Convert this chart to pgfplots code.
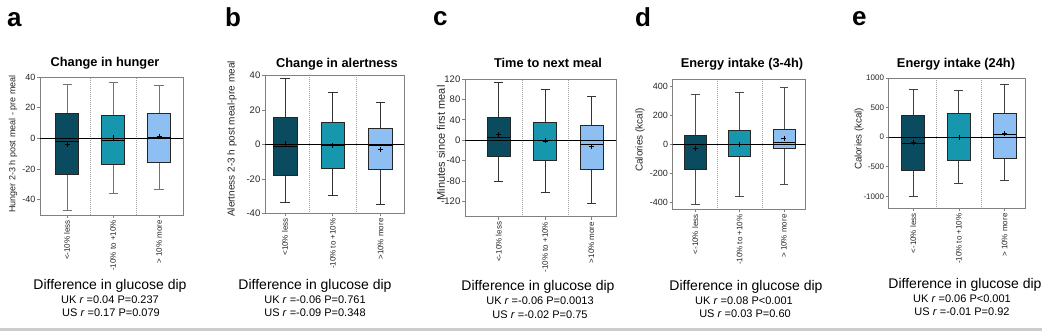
\documentclass[border=0pt]{standalone}
\usepackage{fontspec}
\setmainfont{Liberation Sans}
\usepackage{pgfplots}
\pgfplotsset{compat=1.18}
\definecolor{cA}{HTML}{0B4B5F}
\definecolor{cB}{HTML}{1697AD}
\definecolor{cC}{HTML}{8EBFF2}
\definecolor{axgray}{HTML}{808080}
\tikzset{wsk/.style={draw=black!80, line width=0.8pt}}
\pgfplotsset{
 panel/.style={
  scale only axis, anchor=south west,
  xtick={1,2,3},
  tick pos=left, tick align=outside, major tick length=3pt,
  axis line style={draw=axgray, line width=0.9pt},
  every tick/.style={draw=axgray, line width=0.7pt},
  minor xtick={1.5,2.5}, xminorgrids=true,
  minor grid style={dash pattern=on 0.6pt off 1.4pt, gray!75, line width=0.6pt}, minor tick length=0pt,
  yticklabel style={font=\fontsize{9}{10}\selectfont, text=black!85, inner sep=1.5pt},
  xticklabel style={rotate=90, anchor=east, font=\fontsize{8}{9}\selectfont, text=black!85, inner sep=2pt},
  /pgf/number format/assume math mode=true,
  /pgf/number format/1000 sep={},
 },
}
% \bx{position}{lower whisker}{lower quartile}{median}{upper quartile}{upper whisker}{colour}
\newcommand{\bx}[7]{%
 \pgfmathsetmacro\xl{#1-0.25}\pgfmathsetmacro\xr{#1+0.25}%
 \pgfmathsetmacro\cl{#1-0.1}\pgfmathsetmacro\cr{#1+0.1}%
 \addplot[wsk] coordinates {(#1,#2) (#1,#3)};
 \addplot[wsk] coordinates {(#1,#5) (#1,#6)};
 \addplot[wsk] coordinates {(\cl,#2) (\cr,#2)};
 \addplot[wsk] coordinates {(\cl,#6) (\cr,#6)};
 \addplot[fill=#7, draw=black!85, line width=0.7pt] coordinates {(\xl,#3) (\xr,#3) (\xr,#5) (\xl,#5)} --cycle;
 \addplot[black, line width=0.8pt] coordinates {(\xl,#4) (\xr,#4)};
}
\newcommand{\zeroline}{\addplot[black, line width=0.8pt] coordinates {(-1,0) (5,0)};}
\begin{document}
\begin{tikzpicture}
\useasboundingbox (0,0) rectangle (1042pt,331pt);
\fill[white] (0,0) rectangle (1042pt,331pt);
\fill[black!20] (0,0) rectangle (1042pt,2.6pt);

% ---------- a ----------
\begin{axis}[panel, at={(40pt,116pt)}, width=143pt, height=138pt,
  xmin=0.41, xmax=3.52, ymin=-50, ymax=40, ytick={-40,-20,0,20,40},
  xticklabels={{<-10\% less},{-10\% to +10\%},{> 10\% more}},
  /tikz/wsk/.style={draw=black!55, line width=0.8pt}]
\bx{1}{-46.8}{-23.7}{-1.9}{16.5}{35.4}{cA}
\bx{2}{-35.9}{-17}{-1.2}{15}{36.3}{cB}
\bx{3}{-33.5}{-15.8}{0.4}{16}{34.3}{cC}
\zeroline
\addplot[only marks, mark=+, mark size=2.5pt, black, line width=0.7pt] coordinates {(1,-3.8) (2,0.3) (3,1.2)};
\end{axis}

% ---------- b ----------
\begin{axis}[panel, at={(265pt,117.7pt)}, width=139pt, height=137.6pt,
  xmin=0.58, xmax=3.49, ymin=-40, ymax=40, ytick={-40,-20,0,20,40},
  yticklabel style={font=\fontsize{9.5}{10}\selectfont},
  xticklabels={{<10\% less},{-10\% to +10\%},{>10\% more}}]
\bx{1}{-33.4}{-18.1}{-1.3}{16}{38.4}{cA}
\bx{2}{-29.7}{-13.8}{-0.3}{12.9}{30.3}{cB}
\bx{3}{-34.9}{-14.6}{-0.7}{9.4}{24.2}{cC}
\zeroline
\addplot[only marks, mark=+, mark size=2.5pt, black, line width=0.7pt] coordinates {(1,0.3) (2,-0.5) (3,-2.7)};
\end{axis}

% ---------- c ----------
\begin{axis}[panel, at={(465pt,114.3pt)}, width=151pt, height=137.7pt,
  xmin=0.27, xmax=3.53, ymin=-150, ymax=120, ytick={-120,-80,-40,0,40,80,120},
  yticklabel style={font=\fontsize{9.5}{10}\selectfont},
  xticklabels={{<-10\% less},{-10\% to +10\%},{>10\% more}}]
\bx{1}{-80}{-32}{5.2}{44}{114}{cA}
\bx{2}{-102.3}{-40}{-1.3}{34.8}{99.7}{cB}
\bx{3}{-123.3}{-57.7}{-7.9}{29.5}{86}{cC}
\zeroline
\addplot[only marks, mark=+, mark size=2.5pt, black, line width=0.7pt] coordinates {(1,10.5) (2,-1.3) (3,-13)};
\end{axis}

% ---------- d ----------
\begin{axis}[panel, at={(672.7pt,121.7pt)}, width=133pt, height=130.3pt,
  xmin=0.49, xmax=3.49, ymin=-450, ymax=450, ytick={-400,-200,0,200,400},
  xticklabels={{<-10\% less},{-10\% to +10\%},{> 10\% more}},
  /tikz/wsk/.style={draw=black!70, line width=0.8pt}]
\bx{1}{-416}{-175}{-5}{60}{342}{cA}
\bx{2}{-363}{-85}{0}{96}{356}{cB}
\bx{3}{-278}{-28}{9}{101}{393}{cC}
\zeroline
\addplot[only marks, mark=+, mark size=2.5pt, black, line width=0.7pt] coordinates {(1,-28) (2,0) (3,41)};
\end{axis}

% ---------- e ----------
\begin{axis}[panel, at={(888.7pt,122.7pt)}, width=136.6pt, height=130.3pt,
  xmin=0.465, xmax=3.454, ymin=-1200, ymax=1000, ytick={-1000,-500,0,500,1000},
  yticklabel style={font=\fontsize{8}{9}\selectfont},
  xticklabels={{<-10\% less},{-10\% to +10\%},{> 10\% more}},
  /tikz/wsk/.style={draw=black!75, line width=0.8pt}]
\bx{1}{-1005}{-552}{-98}{367}{810}{cA}
\bx{2}{-787}{-384}{3}{406}{787}{cB}
\bx{3}{-731}{-350}{53}{400}{888}{cC}
\zeroline
\addplot[only marks, mark=+, mark size=2.5pt, black, line width=0.7pt] coordinates {(1,-88) (2,3) (3,59)};
\end{axis}

% panel letters
\begin{scope}[every node/.style={font=\bfseries\fontsize{26}{28}\selectfont, anchor=base west, inner sep=0pt}]
\node at (7pt,304.3pt) {a};
\node at (225pt,304.3pt) {b};
\node at (433pt,305pt) {c};
\node at (635pt,304pt) {d};
\node at (852pt,305pt) {e};
\end{scope}
% titles
\begin{scope}[every node/.style={font=\bfseries\fontsize{12.8}{14}\selectfont, anchor=base, inner sep=0pt}]
\node at (105pt,264.5pt) {Change in hunger};
\node at (337pt,263.5pt) {Change in alertness};
\node at (548pt,263.5pt) {Time to next meal};
\node at (742pt,263.5pt) {Energy intake (3-4h)};
\node at (956pt,263.5pt) {Energy intake (24h)};
\end{scope}
% y labels
\node[rotate=90, font=\fontsize{9}{10}\selectfont, text=black!85] at (13pt,187pt) {Hunger 2-3 h post meal - pre meal};
\node[rotate=90, font=\fontsize{10}{11}\selectfont, text=black!85] at (232pt,192pt) {Alertness 2-3 h post meal-pre meal};
\node[rotate=90, font=\fontsize{11}{12}\selectfont, text=black!85] at (441pt,188pt) {Minutes since first meal};
\node[rotate=90, font=\fontsize{10}{11}\selectfont, text=black!85] at (640pt,191pt) {Calories (kcal)};
\node[rotate=90, font=\fontsize{9.7}{11}\selectfont, text=black!85] at (859pt,192pt) {Calories (kcal)};
% bottom texts
\begin{scope}[every node/.style={anchor=base, inner sep=0pt}]
\node[font=\fontsize{14}{16}\selectfont] at (110pt,41.7pt) {Difference in glucose dip};
\node[font=\fontsize{11}{12}\selectfont] at (110pt,27.7pt) {UK \textit{r} =0.04 P=0.237};
\node[font=\fontsize{11}{12}\selectfont] at (111pt,14.3pt) {US \textit{r} =0.17 P=0.079};
\node[font=\fontsize{14}{16}\selectfont] at (315pt,41.7pt) {Difference in glucose dip};
\node[font=\fontsize{11}{12}\selectfont] at (315pt,27.7pt) {UK \textit{r} =-0.06 P=0.761};
\node[font=\fontsize{11}{12}\selectfont] at (315pt,14.3pt) {US \textit{r} =-0.09 P=0.348};
\node[font=\fontsize{14}{16}\selectfont] at (538pt,40.3pt) {Difference in glucose dip};
\node[font=\fontsize{11}{12}\selectfont] at (540pt,26pt) {UK \textit{r} =-0.06 P=0.0013};
\node[font=\fontsize{11}{12}\selectfont] at (540pt,12.7pt) {US \textit{r} =-0.02 P=0.75};
\node[font=\fontsize{14}{16}\selectfont] at (746pt,40.3pt) {Difference in glucose dip};
\node[font=\fontsize{11}{12}\selectfont] at (744pt,26pt) {UK \textit{r} =0.08 P<0.001};
\node[font=\fontsize{11}{12}\selectfont] at (745pt,13.3pt) {US \textit{r} =0.03 P=0.60};
\node[font=\fontsize{14}{16}\selectfont] at (965pt,42.7pt) {Difference in glucose dip};
\node[font=\fontsize{11}{12}\selectfont] at (962pt,28.7pt) {UK \textit{r} =0.06 P<0.001};
\node[font=\fontsize{11}{12}\selectfont] at (962pt,15.3pt) {US \textit{r} =-0.01 P=0.92};
\end{scope}
\end{tikzpicture}
\end{document}
